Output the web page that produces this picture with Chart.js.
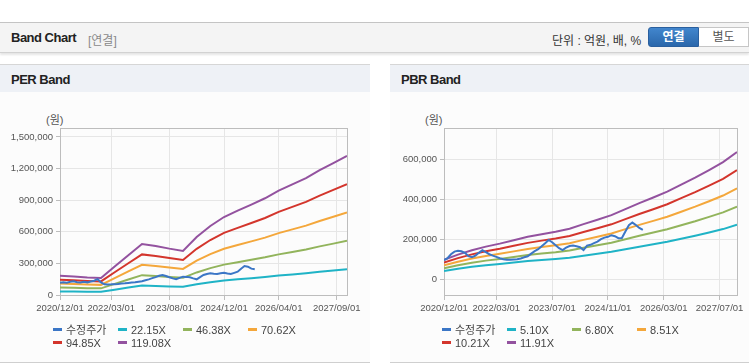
<!DOCTYPE html>
<html lang="ko">
<head>
<meta charset="utf-8">
<title>Band Chart</title>
<script src="https://cdn.jsdelivr.net/npm/chart.js@4.4.1/dist/chart.umd.min.js"></script>
<style>
  html, body { margin: 0; padding: 0; background: #fff; }
  body { width: 749px; height: 364px; position: relative; overflow: hidden;
         font-family: "Liberation Sans", Arial, "Noto Sans CJK KR", sans-serif; }
  .top-bar { position: absolute; left: 0; top: 22px; width: 749px; height: 29px; background: #f4f4f4;
             border-top: 1px solid #c4c4c4; border-bottom: 1px solid #d2d2d2; box-shadow: 0 2px 2px rgba(0,0,0,0.10); }
  .top-bar .title { position: absolute; left: 11px; top: 7px; font-size: 13px; font-weight: bold; color: #222; letter-spacing: -0.5px; }
  .top-bar .sub { position: absolute; left: 88px; top: 8px; font-size: 12px; color: #8a8a8a; }
  .top-bar .unit { position: absolute; left: 552px; top: 8px; font-size: 12px; color: #333; }
  .btn { position: absolute; top: 4px; height: 20px; line-height: 18px; font-size: 12px; text-align: center; box-sizing: border-box; }
  .btn.on { left: 648px; width: 51px; background: linear-gradient(#4286cd, #2a67ab); color: #fff; font-weight: bold;
            border: 1px solid #2a5f9e; border-radius: 3px 0 0 3px; }
  .btn.off { left: 699px; width: 50px; background: #fff; color: #555; border: 1px solid #c6c6c6; border-left: none; }
  .panel { position: absolute; top: 64px; height: 297px; background: #fcfcfc;
           border-top: 1px solid #d6d6d6; border-bottom: 1px solid #cfcfcf; }
  .panel-head { height: 27px; line-height: 29px; background: #eef1f6; padding-left: 11px;
                font-size: 13px; font-weight: bold; color: #222; letter-spacing: -0.5px; }
  .chart-box { position: absolute; top: 100px; height: 225px; }
  .unit-label { position: absolute; top: 111px; font-size: 11px; color: #555; }
  .legend { position: absolute; top: 324px; width: 270px; font-size: 11px; color: #444; line-height: 13px; }
  .legend span.item { display: inline-block; width: 65px; white-space: nowrap; }
  .legend i { display: inline-block; width: 9px; height: 3px; margin-right: 4px; vertical-align: 3px; }
</style>
</head>
<body>
  <div class="top-bar">
    <span class="title">Band Chart</span>
    <span class="sub">[연결]</span>
    <span class="unit">단위 : 억원, 배, %</span>
    <span class="btn on">연결</span>
    <span class="btn off">별도</span>
  </div>

  <div class="panel" style="left:0; width:370px;"><div class="panel-head">PER Band</div></div>
  <div class="panel" style="left:390px; width:359px;"><div class="panel-head">PBR Band</div></div>

  <div class="unit-label" style="left:46px;">(원)</div>
  <div class="unit-label" style="left:425px;">(원)</div>

  <div class="chart-box" style="left:0; width:370px;"><canvas id="perChart" width="370" height="225"></canvas></div>
  <div class="chart-box" style="left:390px; width:359px;"><canvas id="pbrChart" width="359" height="225"></canvas></div>

  <div class="legend" id="perLegend" style="left:53px;"></div>
  <div class="legend" id="pbrLegend" style="left:442px;"></div>

<script>
// --- DATA: month index 0 = 2020/12 ---
const bandMonths = [0, 4, 8, 12, 16, 20, 24, 28, 32, 36, 40, 44, 48, 52, 56, 60, 64, 68, 72, 76, 80, 84];

const xTickMonthsPer = [0, 15, 32, 48, 64, 81];
const xTickLabelsPer = ["2020/12/01", "2022/03/01", "2023/08/01", "2024/12/01", "2026/04/01", "2027/09/01"];
const xTickMonthsPbr = [0, 15, 31, 47, 63, 79];
const xTickLabelsPbr = ["2020/12/01", "2022/03/01", "2023/07/01", "2024/11/01", "2026/03/01", "2027/07/01"];

const perYTicks = [0, 300000, 600000, 900000, 1200000, 1500000];
const pbrYTicks = [0, 200000, 400000, 600000];

const seriesNames = ["수정주가"];
const perBandNames = ["22.15X", "46.38X", "70.62X", "94.85X", "119.08X"];
const pbrBandNames = ["5.10X", "6.80X", "8.51X", "10.21X", "11.91X"];

// 수정주가 (monthly)
const perPrice = [115000, 120000, 117000, 125000, 130000, 122000, 118000, 125000, 120000, 128000, 135000, 150000,
                  120000, 102000, 100000, 101000, 103000, 105000, 110000, 112000, 115000, 118000, 120000, 126000,
                  130000, 140000, 148000, 160000, 170000, 182000, 190000, 180000, 168000, 158000, 149000, 162000,
                  174000, 172000, 168000, 158000, 149000, 170000, 190000, 200000, 206000, 202000, 199000, 206000,
                  212000, 205000, 199000, 210000, 221000, 250000, 275000, 269000, 250000, 244000];
const pbrPrice = [95000, 105000, 125000, 138000, 142000, 140000, 132000, 115000, 110000, 118000, 132000, 145000,
                  135000, 125000, 118000, 112000, 105000, 100000, 98000, 98000, 99000, 100000, 104000, 110000,
                  115000, 128000, 140000, 150000, 165000, 180000, 196000, 185000, 170000, 155000, 146000, 158000,
                  166000, 168000, 165000, 160000, 146000, 168000, 172000, 180000, 188000, 200000, 208000, 212000,
                  220000, 215000, 205000, 206000, 238000, 270000, 283000, 271000, 256000, 246000];

// PER bands
const per2215 = [34000, 32600, 31100, 30100, 50400, 70300, 90000, 86500, 81800, 77700, 102300,
                 121800, 137600, 148800, 159600, 170700, 184100, 195300, 206500, 220400, 232900, 245500];
const per4638 = [71300, 68200, 65000, 63100, 105600, 147200, 188500, 181100, 171400, 162800, 214200,
                 255100, 288200, 311600, 334200, 357600, 385600, 409000, 432300, 461600, 487700, 514100];
const per7062 = [108500, 103800, 99000, 96100, 160700, 224200, 287000, 275700, 260900, 247900, 326200,
                 388400, 438800, 474400, 508800, 544400, 587100, 622700, 658200, 702700, 742400, 782800];
const per9485 = [145800, 139400, 133000, 129000, 215900, 301100, 385500, 370400, 350500, 332900, 438100,
                 521700, 589400, 637200, 683400, 731200, 788500, 836300, 884100, 943900, 997200, 1051400];
const per11908 = [183000, 175000, 167000, 162000, 271000, 378000, 484000, 465000, 440000, 418000, 550000,
                  655000, 740000, 800000, 858000, 918000, 990000, 1050000, 1110000, 1185000, 1252000, 1320000];

// PBR bands
const pbr510 = [41500, 52700, 62100, 69800, 76200, 83500, 90800, 96300, 101500, 107900, 117800,
                127200, 137000, 149900, 162700, 174700, 187100, 202100, 217100, 233400, 250500, 271900];
const pbr680 = [55400, 70200, 82800, 93100, 101600, 111300, 121100, 128500, 135300, 143900, 157000,
                169600, 182700, 199900, 217000, 233000, 249500, 269500, 289500, 311200, 334000, 362600];
const pbr851 = [69300, 87900, 103600, 116500, 127200, 139300, 151500, 160800, 169300, 180100, 196500,
                212200, 228600, 250100, 271500, 291500, 312200, 337200, 362300, 389400, 418000, 453700];
const pbr1021 = [83200, 105400, 124300, 139700, 152600, 167200, 181700, 192900, 203200, 216000, 235800,
                 254600, 274300, 300100, 325800, 349800, 374600, 404600, 434700, 467200, 501500, 544400];
const pbr1191 = [97000, 123000, 145000, 163000, 178000, 195000, 212000, 225000, 237000, 252000, 275000,
                 297000, 320000, 350000, 380000, 408000, 437000, 472000, 507000, 545000, 585000, 635000];

const lineColors = ['#3b76c6', '#1fb3c6', '#92b45c', '#f4a73b', '#d3352c', '#93529f'];

// draws the grey box round the plot area
const frameBox = {
    id: 'frameBox',
    beforeDatasetsDraw(chart) {
        const a = chart.chartArea, ctx = chart.ctx;
        ctx.save();
        ctx.strokeStyle = '#bdbdbd';
        ctx.lineWidth = 1;
        ctx.strokeRect(Math.round(a.left) + 0.5, Math.round(a.top) + 0.5,
                       Math.round(a.right - a.left), Math.round(a.bottom - a.top));
        ctx.restore();
    }
};

const buildDatasets = (price, bands, bandNames) => {
    const sets = [{
        label: seriesNames[0],
        data: price.map((v, i) => ({ x: i, y: v }))
    }];
    bands.forEach((b, k) => {
        sets.push({ label: bandNames[k], data: b.map((v, i) => ({ x: bandMonths[i], y: v })) });
    });
    return sets.map((s, k) => Object.assign(s, {
        borderColor: lineColors[k],
        backgroundColor: lineColors[k],
        borderWidth: 2,
        pointRadius: 0,
        tension: 0,
        fill: false
    }));
};

const renderBandChart = (id, datasets, opt) => {
    return new Chart(document.getElementById(id), {
        type: 'line',
        data: { datasets: datasets },
        plugins: [frameBox],
        options: {
            responsive: false,
            animation: false,
            devicePixelRatio: 1,
            layout: { padding: { top: 28, right: opt.padRight, left: 0, bottom: 0 } },
            plugins: { legend: { display: false }, tooltip: { enabled: false } },
            scales: {
                x: {
                    type: 'linear',
                    min: 0,
                    max: 84,
                    afterBuildTicks: (axis) => { axis.ticks = opt.xTicks.map(v => ({ value: v })); },
                    afterFit: (axis) => { axis.height = 30; },
                    grid: { color: '#e6e6e6', tickColor: '#bdbdbd', tickLength: 5 },
                    border: { color: '#bdbdbd' },
                    ticks: {
                        autoSkip: false, maxRotation: 0, padding: 3,
                        color: '#555', font: { size: 9.5 },
                        callback: (value, index) => opt.xLabels[index]
                    }
                },
                y: {
                    min: opt.yMin,
                    max: opt.yMax,
                    afterBuildTicks: (axis) => { axis.ticks = opt.yTicks.map(v => ({ value: v })); },
                    afterFit: (axis) => { axis.width = opt.yWidth; },
                    grid: { color: '#e6e6e6', tickColor: '#bdbdbd', tickLength: 4 },
                    border: { color: '#bdbdbd' },
                    ticks: {
                        padding: 3, color: '#555', font: { size: 9.5 },
                        callback: (value) => value.toLocaleString('en-US')
                    }
                }
            }
        }
    });
};

const renderLegend = (elId, datasets) => {
    const el = document.getElementById(elId);
    el.innerHTML = datasets.map(d =>
        '<span class="item"><i style="background:' + d.borderColor + '"></i>' + d.label + '</span>'
    ).join('');
};

Chart.defaults.font.family = '"Liberation Sans", Arial, "Noto Sans CJK KR", sans-serif';

const perSets = buildDatasets(perPrice, [per2215, per4638, per7062, per9485, per11908], perBandNames);
const pbrSets = buildDatasets(pbrPrice, [pbr510, pbr680, pbr851, pbr1021, pbr1191], pbrBandNames);

renderBandChart('perChart', perSets, {
    padRight: 23, yWidth: 60, yMin: 0, yMax: 1585000,
    yTicks: perYTicks, xTicks: xTickMonthsPer, xLabels: xTickLabelsPer
});
renderBandChart('pbrChart', pbrSets, {
    padRight: 12, yWidth: 54, yMin: -78500, yMax: 755000,
    yTicks: pbrYTicks, xTicks: xTickMonthsPbr, xLabels: xTickLabelsPbr
});

renderLegend('perLegend', perSets);
renderLegend('pbrLegend', pbrSets);
</script>
</body>
</html>
